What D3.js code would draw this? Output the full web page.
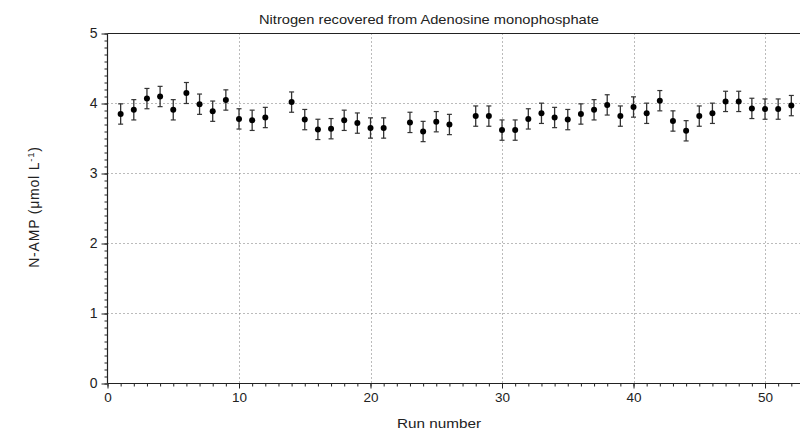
<!DOCTYPE html>
<html><head><meta charset="utf-8">
<script src="https://cdn.jsdelivr.net/npm/d3@7"></script>
<style>body{margin:0;background:#fff}svg{display:block}text{font-family:"Liberation Sans",Arial,sans-serif;fill:#222}</style>
</head><body><svg id="c" width="800" height="432"></svg>
<script>
const runs = [1,2,3,4,5,6,7,8,9,10,11,12,14,15,16,17,18,19,20,21,23,24,25,26,28,29,30,31,32,33,34,35,36,37,38,39,40,41,42,43,44,45,46,47,48,49,50,51,52];
const values = [3.85,3.91,4.07,4.10,3.91,4.15,3.99,3.89,4.05,3.78,3.76,3.80,4.02,3.77,3.63,3.64,3.76,3.72,3.65,3.65,3.73,3.60,3.74,3.70,3.82,3.82,3.62,3.62,3.78,3.86,3.80,3.77,3.85,3.91,3.98,3.82,3.95,3.86,4.04,3.75,3.61,3.82,3.86,4.03,4.03,3.93,3.92,3.92,3.97];
const errors = [0.145,0.145,0.145,0.145,0.145,0.15,0.145,0.145,0.145,0.145,0.145,0.145,0.145,0.145,0.145,0.145,0.145,0.145,0.145,0.145,0.145,0.145,0.145,0.145,0.145,0.145,0.145,0.145,0.145,0.145,0.145,0.145,0.145,0.145,0.145,0.145,0.145,0.145,0.145,0.145,0.145,0.145,0.145,0.145,0.145,0.145,0.145,0.145,0.145];
const xTicks = [0,10,20,30,40,50];
const yTicks = [0,1,2,3,4,5];
const title = "Nitrogen recovered from Adenosine monophosphate";
const xLabel = "Run number";

const svg = d3.select("#c");
const L=107.5, R=800, T=33.5, B=383.5;
const x = d3.scaleLinear().domain([0,52.66]).range([L,R]);
const y = d3.scaleLinear().domain([0,5]).range([B,T]);

// grid
const g = svg.append("g").attr("stroke","#777").attr("stroke-width",1).attr("stroke-dasharray","1,3");
g.selectAll(".gx").data(xTicks.filter(d=>d>0)).enter().append("line")
 .attr("x1",d=>Math.round(x(d))+0.5).attr("x2",d=>Math.round(x(d))+0.5).attr("y1",T).attr("y2",B);
g.selectAll(".gy").data(yTicks.filter(d=>d>0&&d<5)).enter().append("line")
 .attr("x1",L).attr("x2",R).attr("y1",d=>y(d)).attr("y2",d=>y(d));

// x axis
const xa = svg.append("g").attr("transform",`translate(0,${B})`);
xa.call(d3.axisBottom(x).tickValues(d3.range(0,53,1)).tickSize(3).tickFormat(""));
xa.append("g").call(d3.axisBottom(x).tickValues(xTicks).tickSize(5).tickPadding(4).tickFormat(d3.format("d")));
xa.selectAll("path.domain").remove();
xa.selectAll("text").attr("font-size","13.5px").attr("fill","#222").attr("font-family","Liberation Sans, Arial, sans-serif");
xa.selectAll("line").attr("stroke","#222");

// y axis
const ya = svg.append("g").attr("transform",`translate(${L},0)`);
ya.call(d3.axisLeft(y).tickValues(d3.range(0,51,1).map(d=>d/10)).tickSize(3).tickFormat(""));
ya.append("g").call(d3.axisLeft(y).tickValues(yTicks).tickSize(6).tickPadding(4).tickFormat(d3.format("d")));
ya.selectAll("path.domain").remove();
ya.selectAll("text").attr("font-size","14px").attr("fill","#222").attr("font-family","Liberation Sans, Arial, sans-serif");
ya.selectAll("line").attr("stroke","#222");

// frame lines
svg.append("line").attr("x1",L).attr("x2",R).attr("y1",B).attr("y2",B).attr("stroke","#222").attr("stroke-width",1.2);
svg.append("line").attr("x1",L).attr("x2",L).attr("y1",T).attr("y2",B).attr("stroke","#222").attr("stroke-width",1.2);
svg.append("line").attr("x1",L).attr("x2",R).attr("y1",T).attr("y2",T).attr("stroke","#222").attr("stroke-width",1.2);

// data
const data = runs.map((r,i)=>({r,v:values[i],e:errors[i]}));
const pts = svg.append("g").selectAll("g").data(data).enter().append("g");
pts.append("line").attr("x1",d=>x(d.r)).attr("x2",d=>x(d.r)).attr("y1",d=>y(d.v-d.e)).attr("y2",d=>y(d.v+d.e)).attr("stroke","#333").attr("stroke-width",1.3);
pts.append("line").attr("x1",d=>x(d.r)-2.5).attr("x2",d=>x(d.r)+2.5).attr("y1",d=>y(d.v+d.e)).attr("y2",d=>y(d.v+d.e)).attr("stroke","#333").attr("stroke-width",1.2);
pts.append("line").attr("x1",d=>x(d.r)-2.5).attr("x2",d=>x(d.r)+2.5).attr("y1",d=>y(d.v-d.e)).attr("y2",d=>y(d.v-d.e)).attr("stroke","#333").attr("stroke-width",1.2);
pts.append("circle").attr("cx",d=>x(d.r)).attr("cy",d=>y(d.v)).attr("r",3).attr("fill","#000");

// labels
svg.append("text").attr("x",429).attr("y",24).attr("text-anchor","middle").attr("font-size","13px")
  .attr("textLength",340).attr("lengthAdjust","spacingAndGlyphs").text(title);
svg.append("text").attr("x",439).attr("y",428).attr("text-anchor","middle").attr("font-size","13.5px")
  .attr("textLength",84).attr("lengthAdjust","spacingAndGlyphs").text(xLabel);
const yl = svg.append("text").attr("transform","translate(39,207) rotate(-90)").attr("text-anchor","middle")
  .attr("font-size","14px").attr("letter-spacing","0.8px");
yl.append("tspan").text("N-AMP (\u03bcmol L");
yl.append("tspan").attr("dy","-5").attr("font-size","9.5px").text("-1");
yl.append("tspan").attr("dy","5").text(")");
</script></body></html>
